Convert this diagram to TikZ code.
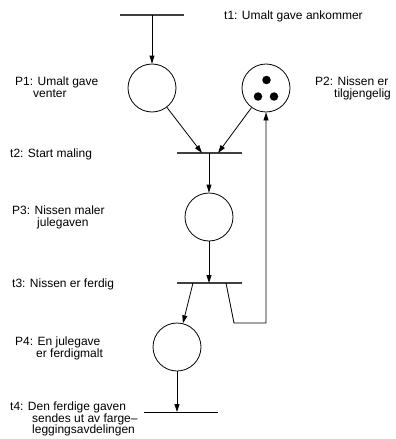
\documentclass[tikz,border=0pt]{standalone}
\usepackage{fontspec}
\setmainfont{Liberation Sans}
\usetikzlibrary{arrows.meta}
\begin{document}
\begin{tikzpicture}[x=1pt,y=-1pt,
  place/.style={circle,draw,line width=0.8pt,minimum size=48pt,inner sep=0pt},
  bar/.style={line width=1.2pt,draw=black!75},
  lastbar/.style={line width=0.9pt,draw=black},
  arr/.style={line width=0.8pt,-{Triangle[length=8pt,width=5pt]}},
  lbl/.style={anchor=north west,inner sep=0pt,align=left,font=\fontsize{12}{11.5}\selectfont},
  token/.style={circle,fill,inner sep=0pt,minimum size=8.5pt}]
\useasboundingbox (0,0) rectangle (396,439);
% transitions
\coordinate (t1L) at (120,15); \coordinate (t1R) at (184,15); \coordinate (t1) at (152,15);
\coordinate (t2L) at (177,153); \coordinate (t2R) at (242,153); \coordinate (t2) at (209,153);
\coordinate (t2a) at (202,153); \coordinate (t2b) at (218,153);
\coordinate (t3L) at (177,283); \coordinate (t3R) at (242,283); \coordinate (t3) at (209,283);
\coordinate (t3a) at (193,283); \coordinate (t3b) at (226,283);
\coordinate (c1) at (234,323); \coordinate (c2) at (266,323);
\coordinate (t4L) at (144,412); \coordinate (t4R) at (218,412); \coordinate (t4) at (177,412);
\draw[bar] (t1L) -- (t1R);
\draw[bar] (t2L) -- (t2R);
\draw[bar] (t3L) -- (t3R);
\draw[lastbar] (t4L) -- (t4R);
% places
\node[place] (P1) at (152,88) {};
\node[place] (P2) at (266,88) {};
\node[place] (P3) at (209,217) {};
\node[place] (P4) at (177,347) {};
\node[token] (k1) at (266.5,80) {};
\node[token] (k2) at (258,96.5) {};
\node[token] (k3) at (274,96.5) {};
% arcs
\draw[arr] (t1) -- (P1);
\draw[arr] (P1) -- (t2a);
\draw[arr] (P2) -- (t2b);
\draw[arr] (t2) -- (P3);
\draw[arr] (P3) -- (t3);
\draw[arr] (t3a) -- (P4);
\draw[arr] (t3b) -- (c1) -- (c2) -- (P2);
\draw[arr] (P4) -- (t4);
% labels
\node[lbl] (L1) at (224,11) {t1: Umalt gave ankommer};
\node[lbl] (LP1) at (15,77) {P1: Umalt gave\\\hspace*{18pt}venter};
\node[lbl] (LP2) at (315,77) {P2: Nissen er\\\hspace*{19pt}tilgjengelig};
\node[lbl] (L2) at (10,149) {t2: Start maling};
\node[lbl] (LP3) at (12,206) {P3: Nissen maler\\\hspace*{25pt}julegaven};
\node[lbl] (L3) at (12,279) {t3: Nissen er ferdig};
\node[lbl] (LP4) at (15,337) {P4: En julegave\\\hspace*{21pt}er ferdigmalt};
\node[lbl] (L4) at (10,402) {t4: Den ferdige gaven\\\hspace*{22pt}sendes ut av farge–\\\hspace*{22pt}leggingsavdelingen};
\end{tikzpicture}
\end{document}
